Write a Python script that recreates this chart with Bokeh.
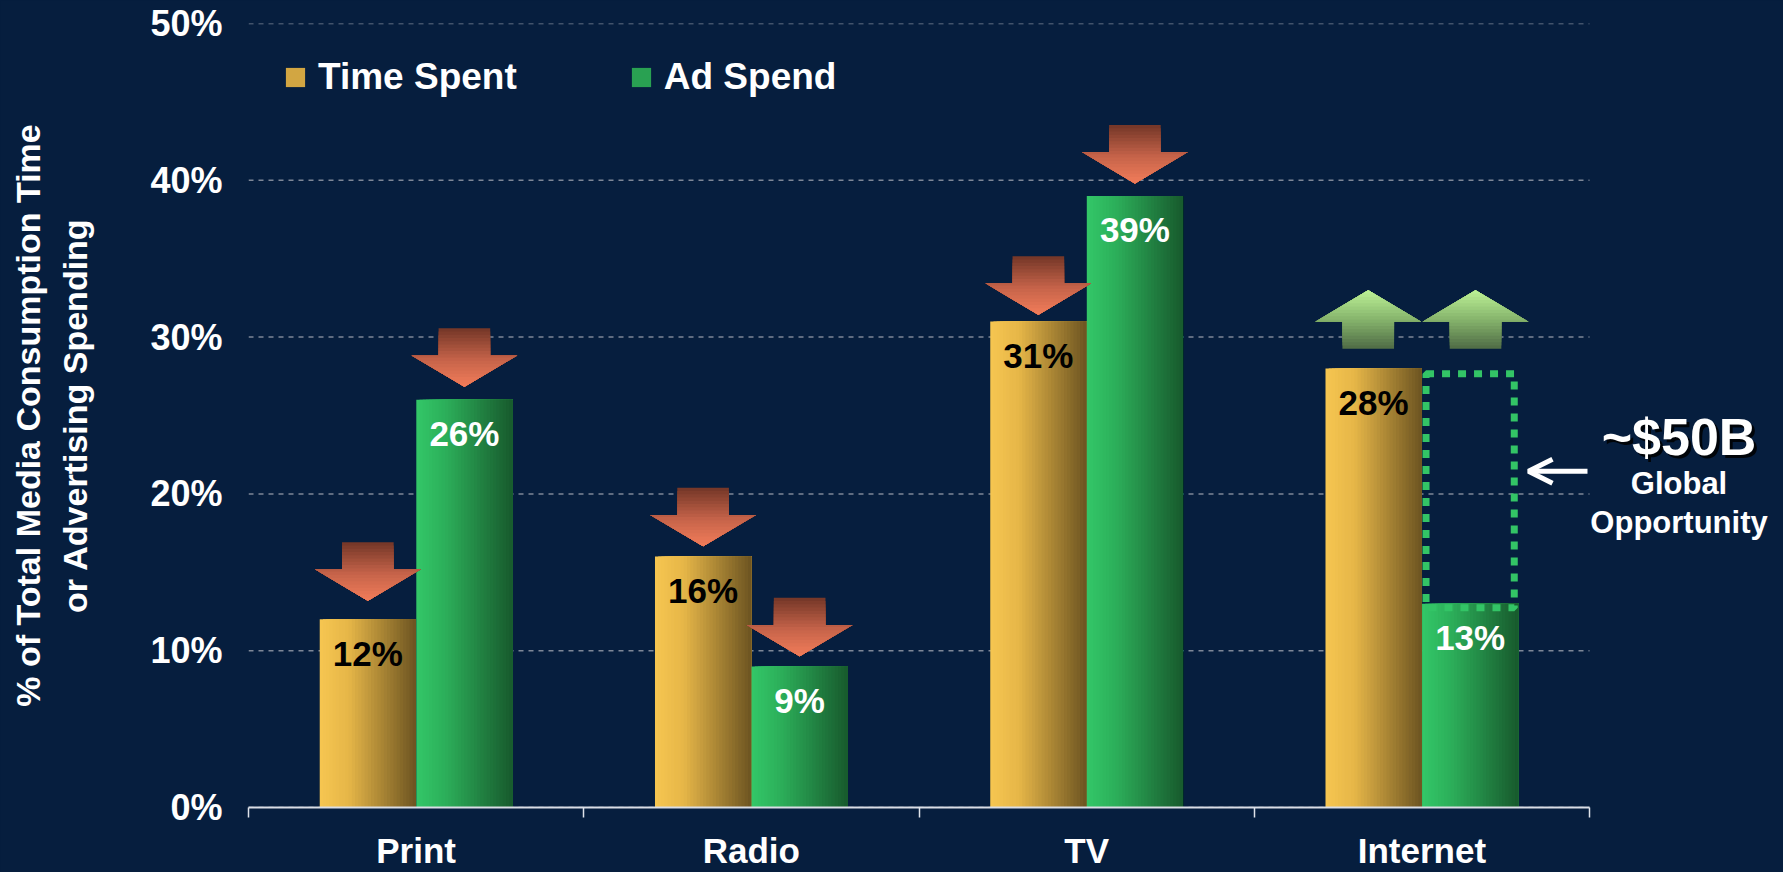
from bokeh.plotting import figure
from bokeh.models import (ColumnDataSource, FixedTicker, Legend, LegendItem, Label,
                          Arrow, OpenHead, Range1d, GlobalInlineStyleSheet)
from bokeh.core.properties import value
from bokeh.embed import file_html
from bokeh.resources import INLINE

# ---------------- data ----------------
categories = ["Print", "Radio", "TV", "Internet"]
time_spent = [12, 16, 31, 28]
ad_spend = [26, 9, 39, 13]
trend = ["down", "down", "down", "up"]
series_names = ["Time Spent", "Ad Spend"]
y_ticks = [0, 10, 20, 30, 40, 50]
y_tick_labels = ["0%", "10%", "20%", "30%", "40%", "50%"]
y_axis_title = "% of Total Media Consumption Time\nor Advertising Spending"
opportunity_value = "~$50B"
opportunity_lines = ["Global", "Opportunity"]

# ---------------- style ----------------
BG = "#061e3e"
FONT = "Liberation Sans"
time_stops = [(0.0, (246, 198, 81)), (0.3, (230, 182, 72)), (1.0, (108, 84, 33))]
ad_stops = [(0.0, (51, 199, 104)), (0.3, (44, 175, 90)), (1.0, (24, 90, 45))]
down_stops = [(0.0, (115, 54, 39)), (0.55, (199, 100, 74)), (1.0, (242, 125, 90))]
up_stops = [(0.0, (79, 107, 69)), (0.5, (134, 180, 108)), (1.0, (189, 242, 150))]
# gap (in %) between each bar top and its trend arrow, per category [time, ad]
ARROW_GAP = [[1.19, 0.83], [0.66, 0.64], [0.43, 0.8], [1.25, 1.25]]

N_CAT = len(categories)
PX_X = 335.25                # px per category unit
FRAME_LEFT = 248
FRAME_W = 1783 - FRAME_LEFT  # frame runs to the right edge (annotation lives there)
FRAME_H = 784
Y_MAX = 50
PX_Y = FRAME_H / Y_MAX
X_END = FRAME_W / PX_X

BAR_W = 0.287
OFF = 0.144


def interp(stops, t):
    for (t0, c0), (t1, c1) in zip(stops[:-1], stops[1:]):
        if t <= t1:
            f = (t - t0) / (t1 - t0) if t1 > t0 else 0
            c = [round(a + (b - a) * f) for a, b in zip(c0, c1)]
            return "#%02x%02x%02x" % tuple(c)
    return "#%02x%02x%02x" % stops[-1][1]


p = figure(frame_width=FRAME_W, frame_height=FRAME_H,
           x_range=Range1d(0, X_END), y_range=Range1d(0, Y_MAX),
           output_backend="svg", toolbar_location=None,
           min_border_left=FRAME_LEFT, min_border_right=0,
           min_border_top=23, min_border_bottom=65,
           background_fill_color=BG, border_fill_color=BG)
p.outline_line_color = None
p.stylesheets = [GlobalInlineStyleSheet(css="html, body { background-color: #061e3e; }")]

# ---------------- grid lines (only over the category span) ----------------
p.segment(x0=[0] * len(y_ticks), x1=[N_CAT] * len(y_ticks), y0=y_ticks, y1=y_ticks,
          line_color="#7e8797", line_width=1.5, line_dash="5 5")

# ---------------- gradient bars (strips) ----------------
N = 30
centers = {0: [i + 0.5 - OFF for i in range(N_CAT)],
           1: [i + 0.5 + OFF for i in range(N_CAT)]}
renderers = []
for s, (vals, stops) in enumerate([(time_spent, time_stops), (ad_spend, ad_stops)]):
    L, R, T, B, C = [], [], [], [], []
    for c, v in zip(centers[s], vals):
        for k in range(N):
            L.append(c - BAR_W / 2 + k * BAR_W / N)
            R.append(c + BAR_W / 2)
            T.append(v)
            B.append(0)
            C.append(interp(stops, (k + 0.5) / N))
    src = ColumnDataSource(dict(left=L, right=R, top=T, bottom=B, color=C))
    r = p.quad(left="left", right="right", top="top", bottom="bottom", source=src,
               fill_color="color", line_color=None)
    renderers.append(r)

# ---------------- value labels ----------------
for s, (vals, col) in enumerate([(time_spent, "black"), (ad_spend, "white")]):
    src = ColumnDataSource(dict(x=centers[s], y=[v - 34 / PX_Y for v in vals],
                                t=[f"{v}%" for v in vals]))
    p.text(x="x", y="y", text="t", source=src, text_align="center",
           text_baseline="middle", text_color=col, text_font=value(FONT),
           text_font_size="35px", text_font_style="bold")

# ---------------- trend arrows ----------------
SH, HH = 0.077, 0.158      # half widths (category units)
S_LEN, H_LEN = 1.73, 2.0   # lengths in percent


def arrow_bands(cx, base, direction, gap, n=18):
    xs, ys, cols = [], [], []
    if direction == "down":
        y2 = base + gap
        y1 = y2 + H_LEN
        y0 = y1 + S_LEN
        for k in range(n):
            yk = y0 - k * (y0 - y2) / n
            if yk >= y1:
                px = [cx - SH, cx + SH, cx + SH, cx + HH, cx, cx - HH, cx - SH]
                py = [yk, yk, y1, y1, y2, y1, y1]
            else:
                hw = HH * (yk - y2) / (y1 - y2)
                px = [cx - hw, cx + hw, cx]
                py = [yk, yk, y2]
            xs.append(px); ys.append(py)
            cols.append(interp(down_stops, (k + 0.5) / n))
    else:
        y0 = base + gap
        y1 = y0 + S_LEN
        y2 = y1 + H_LEN
        for k in range(n):
            yk = y0 + k * (y2 - y0) / n
            if yk <= y1:
                px = [cx - SH, cx + SH, cx + SH, cx + HH, cx, cx - HH, cx - SH]
                py = [yk, yk, y1, y1, y2, y1, y1]
            else:
                hw = HH * (y2 - yk) / (y2 - y1)
                px = [cx - hw, cx + hw, cx]
                py = [yk, yk, y2]
            xs.append(px); ys.append(py)
            cols.append(interp(up_stops, (k + 0.5) / n))
    return xs, ys, cols


AX, AY, AC = [], [], []
for i, tr in enumerate(trend):
    for s, vals in enumerate([time_spent, ad_spend]):
        cx = centers[s][i]
        gap = ARROW_GAP[i][s]
        if tr == "down":
            xs, ys, cs = arrow_bands(cx, vals[i], "down", gap)
        else:
            base = time_spent[i]            # target: the opportunity box top
            shift = (-0.016 if s == 0 else 0.016)
            xs, ys, cs = arrow_bands(cx + shift, base, "up", gap)
        AX += xs; AY += ys; AC += cs
p.patches(xs="xs", ys="ys", fill_color="c", line_color=None,
          source=ColumnDataSource(dict(xs=AX, ys=AY, c=AC)))

# ---------------- opportunity box ----------------
opp = [i for i, tr in enumerate(trend) if tr == "up"]
dx, dy = 4 / PX_X, 4 / PX_Y
p.quad(left=[centers[1][i] - BAR_W / 2 + dx for i in opp],
       right=[centers[1][i] + BAR_W / 2 - dx for i in opp],
       bottom=[ad_spend[i] - dy for i in opp],
       top=[time_spent[i] - 1.3 * dy for i in opp],
       fill_color=None, line_color="#33c466", line_width=7, line_dash="8 8")

# ---------------- annotation on the right ----------------
for i in opp:
    ymid = (time_spent[i] + ad_spend[i]) / 2
    p.add_layout(Arrow(end=OpenHead(size=24, line_color="white", line_width=5),
                       x_start=N_CAT - 0.006, y_start=ymid + 0.95,
                       x_end=N_CAT - 0.182, y_end=ymid + 0.95,
                       line_color="white", line_width=5))
    lx = N_CAT + 0.267
    p.add_layout(Label(x=lx, y=ymid + 3.15, text=opportunity_value, text_align="center",
                       text_baseline="middle", text_font=FONT, text_font_size="52px",
                       text_font_style="bold", text_color="black", text_alpha=0.85,
                       x_offset=3, y_offset=-3))
    p.add_layout(Label(x=lx, y=ymid + 3.15, text=opportunity_value, text_align="center",
                       text_baseline="middle", text_font=FONT, text_font_size="52px",
                       text_font_style="bold", text_color="white"))
    for j, line in enumerate(opportunity_lines):
        p.add_layout(Label(x=lx, y=ymid + 0.18 - j * 2.5, text=line, text_align="center",
                           text_baseline="middle", text_font=FONT, text_font_size="31px",
                           text_font_style="bold", text_color="white"))

# ---------------- axes ----------------
xa = p.xaxis[0]
xa.bounds = (0, N_CAT)
xa.ticker = FixedTicker(ticks=[i + 0.5 for i in range(N_CAT)],
                        minor_ticks=list(range(N_CAT + 1)))
xa.major_label_overrides = {i + 0.5: c for i, c in enumerate(categories)}
xa.major_tick_line_color = None
xa.major_tick_out = 0
xa.major_tick_in = 0
xa.minor_tick_line_color = "#dfe3ea"
xa.minor_tick_line_width = 1.5
xa.minor_tick_out = 10
xa.minor_tick_in = 0
xa.axis_line_color = "#d9dde5"
xa.axis_line_width = 2
xa.major_label_text_font = FONT
xa.major_label_text_font_size = "35px"
xa.major_label_text_font_style = "bold"
xa.major_label_text_color = "white"
xa.major_label_standoff = 13

ya = p.yaxis[0]
ya.ticker = FixedTicker(ticks=y_ticks)
ya.major_label_overrides = {t: l for t, l in zip(y_ticks, y_tick_labels)}
ya.axis_line_color = None
ya.major_tick_line_color = None
ya.minor_tick_line_color = None
ya.major_label_text_font = FONT
ya.major_label_text_font_size = "36px"
ya.major_label_text_font_style = "bold"
ya.major_label_text_color = "white"
ya.major_label_standoff = 20
ya.axis_label = y_axis_title
ya.axis_label_text_font = FONT
ya.axis_label_text_font_size = "34px"
ya.axis_label_text_font_style = "bold"
ya.axis_label_text_color = "white"
ya.axis_label_text_line_height = 1.24
ya.axis_label_standoff = 53

p.xgrid.visible = False
p.ygrid.visible = False

# ---------------- legend ----------------
legend = Legend(items=[LegendItem(label=series_names[0], renderers=[renderers[0]], index=12),
                       LegendItem(label=series_names[1], renderers=[renderers[1]], index=12)],
                orientation="horizontal", location=(35, 709),
                background_fill_alpha=0, border_line_alpha=0,
                label_text_color="white", label_text_font=FONT,
                label_text_font_size="37px", label_text_font_style="bold",
                glyph_width=24, glyph_height=24, label_standoff=11,
                spacing=112, padding=0, margin=0)
p.add_layout(legend)

open("out.html", "w").write(file_html(p, INLINE))
